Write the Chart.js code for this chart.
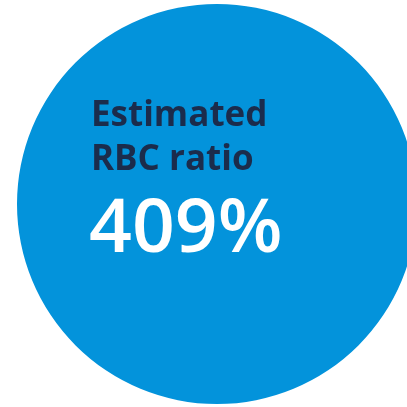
<!DOCTYPE html>
<html>
<head>
<meta charset="utf-8">
<script src="https://cdn.jsdelivr.net/npm/chart.js@4/dist/chart.umd.min.js"></script>
<style>
  html, body { margin: 0; padding: 0; background: #fff; overflow: hidden; width: 407px; height: 407px; }
  #wrap { position: absolute; left: 17px; top: 4px; width: 400px; height: 400px; }
</style>
</head>
<body>
<div id="wrap"><canvas id="ratioChart"></canvas></div>
<script>
// ---------- Dados ----------
const labels = ['Estimated RBC ratio'];
const values = [409];
const titleLines = ['Estimated', 'RBC ratio'];
const valueText = '409%';

// ---------- Paleta ----------
const palette = {
  fill:  '#0393db',
  title: '#1b2c4c',
  value: '#ffffff'
};

// texto dentro do círculo
const centerText = {
  id: 'centerText',
  afterDraw(chart) {
    const { ctx, chartArea } = chart;
    const x = chartArea.left + 74;
    ctx.save();
    ctx.textAlign = 'left';
    ctx.textBaseline = 'alphabetic';
    ctx.fillStyle = palette.title;
    ctx.font = 'bold 35px "Open Sans", sans-serif';
    titleLines.forEach((line, i) => {
      ctx.fillText(line, x, chartArea.top + 122 + i * 44);
    });
    ctx.fillStyle = palette.value;
    ctx.font = '600 75px "Open Sans", sans-serif';
    ctx.fillText(valueText, x - 2, chartArea.top + 248);
    ctx.restore();
  }
};

new Chart(document.getElementById('ratioChart'), {
  type: 'pie',
  data: {
    labels: labels,
    datasets: [{
      data: values,
      backgroundColor: [palette.fill],
      borderWidth: 0,
      hoverOffset: 0
    }]
  },
  options: {
    responsive: true, maintainAspectRatio: false,
    animation: false,
    layout: { padding: 0 },
    plugins: { legend: { display: false }, tooltip: { enabled: false } }
  },
  plugins: [centerText]
});
</script>
</body>
</html>
